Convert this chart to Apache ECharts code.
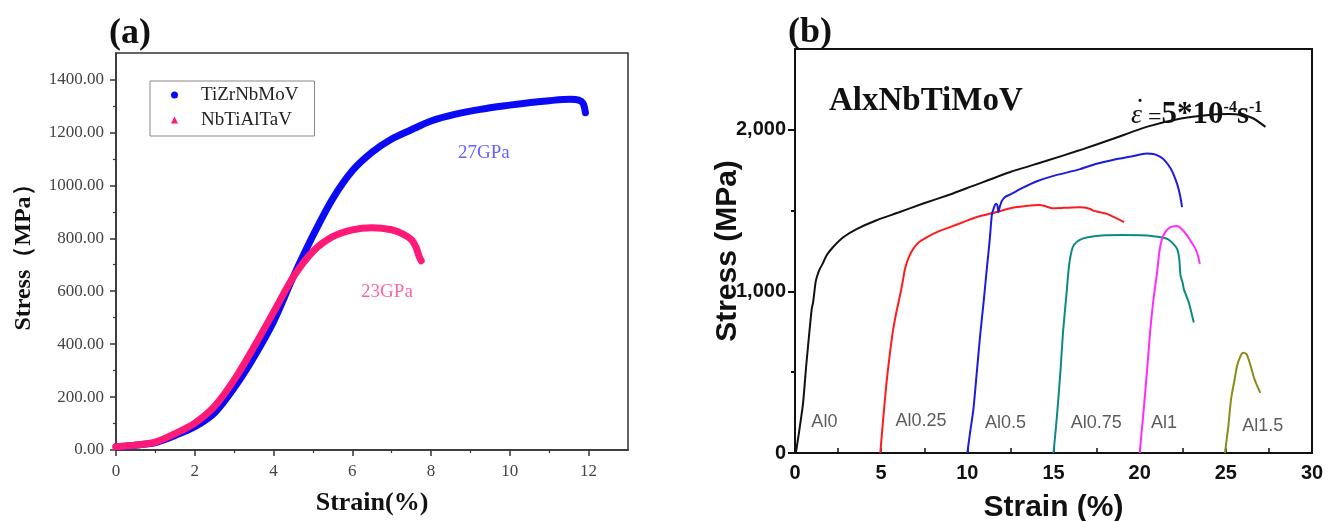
<!DOCTYPE html>
<html>
<head>
<meta charset="utf-8">
<title>Stress-strain curves</title>
<script src="https://cdn.jsdelivr.net/npm/echarts@6/dist/echarts.min.js"></script>
<style>
  html, body { margin: 0; padding: 0; background: #fff; }
  #chart { width: 1333px; height: 521px; }
</style>
</head>
<body>
<div id="chart"></div>
<script>
  // ---- panel (a) ----
  const strainTiZr = [0, 0.3, 0.6, 1.0, 1.5, 2.0, 2.5, 3.0, 3.5, 4.0, 4.5, 5.0, 5.5, 6.0, 6.5, 7.0, 7.5, 8.0, 8.6, 9.25, 10.0, 10.53, 11.0, 11.54, 11.75, 11.86, 11.92];
  const stressTiZr = [12, 15, 20, 28, 55, 88, 140, 235, 351, 485, 654, 810, 949, 1055, 1125, 1175, 1210, 1243, 1268, 1287, 1303, 1313, 1320, 1325, 1322, 1310, 1274];
  const strainNbTi = [0, 0.3, 0.6, 1.0, 1.5, 2.0, 2.5, 3.0, 3.5, 4.0, 4.5, 5.0, 5.5, 6.0, 6.5, 7.0, 7.3, 7.5, 7.62, 7.7, 7.75];
  const stressNbTi = [12, 16, 20, 30, 62, 102, 165, 265, 389, 521, 653, 750, 806, 832, 840, 832, 815, 795, 765, 730, 715];
  const modulusA = [[9.34, 1123, '27GPa'], [6.88, 596, '23GPa']];
  const xTicksA = [0, 2, 4, 6, 8, 10, 12];
  const yTicksA = [0, 200, 400, 600, 800, 1000, 1200, 1400];

  // ---- panel (b) ----
  const alloysB = ['Al0', 'Al0.25', 'Al0.5', 'Al0.75', 'Al1', 'Al1.5'];
  const colorsB = ['#111111', '#ff1c1c', '#1c1cdc', '#0c8a84', '#ff2cff', '#8c8c1a'];
  const strainB = [
    [0.05, 0.25, 0.47, 0.65, 0.85, 0.97, 1.05, 1.2, 1.3, 1.44, 1.6, 1.82, 2.2, 2.8, 3.6, 4.7, 6, 7.4, 9, 10.4, 12.5, 14.5, 16.5, 18.5, 20.4, 22.4, 24.3, 25.2, 25.9, 26.6, 27.3],
    [4.95, 5.1, 5.31, 5.5, 5.7, 5.9, 6.09, 6.25, 6.38, 6.6, 6.86, 7.2, 7.64, 8.3, 9.0, 9.8, 10.55, 11.7, 12.5, 13.5, 14.2, 14.5, 14.9, 15.6, 16.5, 17.1, 17.3, 18.1, 19.1],
    [10.0, 10.15, 10.35, 10.55, 10.74, 10.95, 11.13, 11.3, 11.42, 11.55, 11.67, 11.75, 11.8, 11.9, 12.0, 12.2, 12.5, 13.2, 14, 15, 16.5, 17.5, 18.5, 19.5, 20.4, 20.8, 21.2, 21.5, 21.8, 22.0, 22.2, 22.35, 22.46],
    [15.0, 15.2, 15.4, 15.55, 15.75, 15.9, 16.05, 16.2, 16.5, 17.0, 18.0, 19.0, 20.0, 20.8, 21.3, 21.6, 21.9, 22.17, 22.3, 22.37, 22.5, 22.56, 22.7, 22.85, 23.0, 23.14],
    [20.0, 20.2, 20.45, 20.62, 20.8, 21.01, 21.15, 21.3, 21.5, 21.69, 21.9, 22.17, 22.45, 22.76, 23.0, 23.24, 23.4, 23.49],
    [24.95, 25.15, 25.3, 25.5, 25.65, 25.85, 26.0, 26.2, 26.35, 26.5, 26.65, 26.8, 27.0]
  ];
  const stressB = [
    [0, 140, 310, 540, 766, 890, 932, 1060, 1100, 1139, 1170, 1221, 1273, 1335, 1387, 1439, 1488, 1542, 1600, 1656, 1739, 1805, 1873, 1946, 2018, 2070, 2095, 2097, 2091, 2070, 2018],
    [0, 190, 435, 610, 766, 880, 973, 1060, 1139, 1210, 1263, 1305, 1335, 1370, 1398, 1430, 1460, 1491, 1515, 1530, 1535, 1528, 1515, 1517, 1520, 1512, 1500, 1480, 1429],
    [0, 120, 269, 500, 724, 940, 1139, 1320, 1470, 1520, 1542, 1530, 1491, 1530, 1560, 1585, 1600, 1640, 1680, 1715, 1755, 1790, 1815, 1835, 1853, 1850, 1832, 1805, 1760, 1715, 1656, 1590, 1522],
    [0, 228, 500, 745, 980, 1158, 1250, 1290, 1318, 1335, 1347, 1349, 1347, 1342, 1334, 1325, 1300, 1263, 1200, 1097, 1050, 1014, 975, 932, 870, 807],
    [0, 228, 538, 766, 951, 1118, 1250, 1325, 1370, 1391, 1402, 1404, 1385, 1345, 1305, 1263, 1215, 1170],
    [0, 170, 331, 450, 538, 600, 620, 612, 570, 517, 460, 420, 372]
  ];
  const labelPosB = [[0.95, 192], [5.83, 195], [11.03, 186], [16.0, 184], [20.66, 186], [25.95, 165]];
  const xTicksB = [0, 5, 10, 15, 20, 25, 30];
  const yTicksB = [0, 1000, 2000];

  const serif = '"Liberation Serif", "Times New Roman", serif';
  const sans = '"Liberation Sans", Arial, sans-serif';
  const pairs = (xs, ys) => xs.map((x, i) => [x, ys[i]]);

  const axisA = (extra) => Object.assign({
    type: 'value',
    gridIndex: 0,
    splitLine: { show: false },
    axisLine: { show: true, onZero: false, lineStyle: { color: '#333', width: 1.5 } },
    minorTick: { show: true, splitNumber: 2, length: 3, lineStyle: { color: '#333', width: 1.2 } },
    nameLocation: 'middle',
    nameMoveOverlap: false,
  }, extra);

  const axisB = (extra) => Object.assign({
    type: 'value',
    gridIndex: 1,
    splitLine: { show: false },
    axisLine: { show: true, onZero: false, lineStyle: { color: '#111', width: 2 } },
    nameLocation: 'middle',
    nameMoveOverlap: false,
  }, extra);

  const seriesA = [
    { name: 'TiZrNbMoV', data: pairs(strainTiZr, stressTiZr), color: '#0a0af5' },
    { name: 'NbTiAlTaV', data: pairs(strainNbTi, stressNbTi), color: '#ff1a78' },
  ].map((s) => ({
    name: s.name,
    type: 'line',
    xAxisIndex: 0,
    yAxisIndex: 0,
    data: s.data,
    smooth: 0.3,
    showSymbol: false,
    color: s.color,
    lineStyle: { width: 7, color: s.color, cap: 'round', join: 'round' },
  }));

  const seriesB = alloysB.map((name, i) => ({
    name,
    type: 'line',
    xAxisIndex: 1,
    yAxisIndex: 1,
    data: pairs(strainB[i], stressB[i]),
    smooth: 0.2,
    showSymbol: false,
    color: colorsB[i],
    lineStyle: { width: 2, color: colorsB[i] },
  }));

  const notesA = {
    type: 'scatter',
    xAxisIndex: 0,
    yAxisIndex: 0,
    symbolSize: 0,
    silent: true,
    data: modulusA.map((m, i) => ({
      value: m,
      label: { color: i === 0 ? '#3a3aff' : '#ff3d8b' },
    })),
    label: {
      show: true,
      position: 'inside',
      formatter: (p) => p.value[2],
      fontFamily: serif,
      fontSize: 19,
    },
  };

  const notesB = {
    type: 'scatter',
    xAxisIndex: 1,
    yAxisIndex: 1,
    symbolSize: 0,
    silent: true,
    data: labelPosB.map((p, i) => [p[0], p[1], alloysB[i]]),
    label: {
      show: true,
      position: 'inside',
      align: 'left',
      formatter: (p) => p.value[2],
      fontFamily: sans,
      fontSize: 18,
      color: '#333',
    },
  };

  const option = {
    animation: false,
    backgroundColor: '#fff',
    grid: [
      { left: 116, top: 53, width: 512, height: 397, outerBoundsMode: 'none', show: true, borderColor: '#333', borderWidth: 1.5 },
      { left: 795, top: 49, width: 517, height: 404, outerBoundsMode: 'none', show: true, borderColor: '#111', borderWidth: 2 },
    ],
    legend: {
      data: [
        { name: 'TiZrNbMoV', icon: 'circle' },
        { name: 'NbTiAlTaV', icon: 'triangle' },
      ],
      orient: 'vertical',
      left: 150,
      top: 81,
      padding: [4, 16, 6, 21],
      itemGap: 5,
      itemWidth: 7,
      itemHeight: 7,
      borderColor: '#888',
      borderWidth: 1,
      textStyle: { fontFamily: serif, fontSize: 19, color: '#222', lineHeight: 20, padding: [0, 0, 0, 18] },
    },
    xAxis: [
      axisA({
        min: 0, max: 13, interval: 2,
        axisTick: { show: true, inside: false, length: 6, customValues: xTicksA, lineStyle: { color: '#333', width: 1.5 } },
        axisLabel: { customValues: xTicksA, fontFamily: serif, fontSize: 17, color: '#444', margin: 13 },
        name: 'Strain(%)',
        nameGap: 40,
        nameTextStyle: { fontFamily: serif, fontWeight: 'bold', fontSize: 26, color: '#111' },
      }),
      axisB({
        min: 0, max: 30, interval: 5,
        axisTick: { show: true, inside: true, length: 5, lineStyle: { color: '#111', width: 1.5 } },
        minorTick: { show: true, splitNumber: 2, length: 5, lineStyle: { color: '#111', width: 1.5 } },
        axisLabel: { customValues: xTicksB, fontFamily: sans, fontWeight: 'bold', fontSize: 20, color: '#111', margin: 10 },
        name: 'Strain (%)',
        nameGap: 40,
        nameTextStyle: { fontFamily: sans, fontWeight: 'bold', fontSize: 30, color: '#111' },
      }),
    ],
    yAxis: [
      axisA({
        min: 0, max: 1500, interval: 200,
        axisTick: { show: true, inside: false, length: 6, customValues: yTicksA, lineStyle: { color: '#333', width: 1.5 } },
        axisLabel: {
          customValues: yTicksA,
          formatter: (v) => v.toFixed(2),
          fontFamily: serif, fontSize: 17, color: '#444', margin: 12,
        },
        name: 'Stress（MPa）',
        nameGap: 80,
        nameTextStyle: { fontFamily: serif, fontWeight: 'bold', fontSize: 24, color: '#111' },
      }),
      axisB({
        min: 0, max: 2500, interval: 1000,
        axisTick: { show: true, inside: false, length: 7, customValues: yTicksB, lineStyle: { color: '#111', width: 2 } },
        minorTick: { show: true, splitNumber: 2, length: 4, lineStyle: { color: '#111', width: 2 } },
        axisLabel: {
          customValues: yTicksB,
          formatter: (v) => v.toLocaleString('en-US'),
          fontFamily: sans, fontWeight: 'bold', fontSize: 20, color: '#111', margin: 9,
        },
        name: 'Stress (MPa)',
        nameGap: 52,
        nameTextStyle: { fontFamily: sans, fontWeight: 'bold', fontSize: 30, color: '#111' },
      }),
    ],
    graphic: [
      { type: 'text', left: 109, top: 16, style: { text: '(a)', font: 'bold 36px ' + serif, fill: '#111' } },
      { type: 'text', left: 788, top: 15, style: { text: '(b)', font: 'bold 36px ' + serif, fill: '#111' } },
      { type: 'text', left: 829, top: 85, style: { text: 'AlxNbTiMoV', font: 'bold 33px ' + serif, fill: '#111' } },
      { type: 'text', left: 1135, top: 96, z: 100, style: { text: '˙', font: '30px ' + serif, fill: '#111' } },
      {
        type: 'text', left: 1131, top: 99, z: 100,
        style: {
          text: '{e|ε}{eq| =}{b|5*10}{s|-4}{b|s}{s|-1}',
          fill: '#111',
          rich: {
            e: { fontFamily: serif, fontStyle: 'italic', fontSize: 28, lineHeight: 30, verticalAlign: 'bottom' },
            eq: { fontFamily: serif, fontSize: 24, lineHeight: 30, verticalAlign: 'bottom' },
            b: { fontFamily: serif, fontWeight: 'bold', fontSize: 31, lineHeight: 30, verticalAlign: 'bottom' },
            s: { fontFamily: serif, fontWeight: 'bold', fontSize: 16, lineHeight: 16, padding: [0, 0, 22, 0], verticalAlign: 'top' },
          },
        },
      },
    ],
    series: [...seriesA, notesA, ...seriesB, notesB],
  };

  const chart = echarts.init(document.getElementById('chart'));
  chart.setOption(option);
</script>
</body>
</html>
